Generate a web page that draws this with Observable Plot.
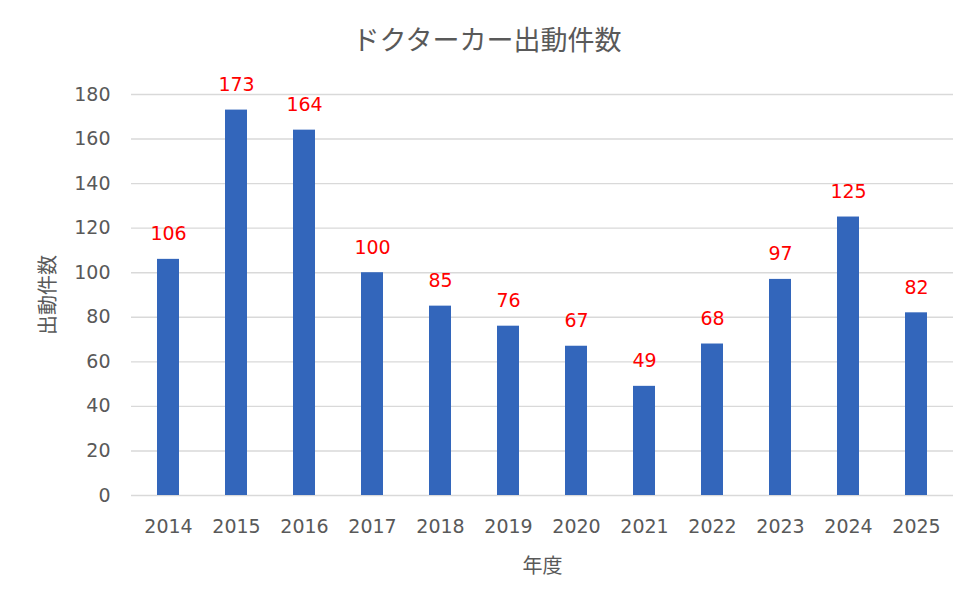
<!DOCTYPE html>
<html>
<head>
<meta charset="utf-8">
<script src="https://cdn.jsdelivr.net/npm/d3@7"></script>
<script src="https://cdn.jsdelivr.net/npm/@observablehq/plot@0.6"></script>
<style>
  html, body { margin: 0; padding: 0; background: #fff; }
  #wrap { width: 972px; }
  #title {
    height: 60px;
    line-height: 78px;
    text-align: center;
    font-family: "Noto Sans CJK JP", sans-serif;
    font-size: 27px;
    color: #595959;
    padding-left: 2px;
  }
  #chart svg text.num { letter-spacing: 0.5px; }
</style>
</head>
<body>
<div id="wrap">
  <div id="title">ドクターカー出動件数</div>
  <div id="chart"></div>
</div>
<script>
// 年度ごとのドクターカー出動件数
const years = ["2014", "2015", "2016", "2017", "2018", "2019", "2020", "2021", "2022", "2023", "2024", "2025"];
const counts = [106, 173, 164, 100, 85, 76, 67, 49, 68, 97, 125, 82];
const yTicks = [0, 20, 40, 60, 80, 100, 120, 140, 160, 180];

const data = years.map((year, i) => ({ year, count: counts[i] }));

const numFont = "'DejaVu Sans', Verdana, sans-serif";
const jpFont = "'Noto Sans CJK JP', sans-serif";

const chart = Plot.plot({
  width: 972,
  height: 547,
  marginLeft: 131,
  marginRight: 19,
  marginTop: 34,
  marginBottom: 112,
  style: { fontFamily: numFont, fontSize: "18px", color: "#595959", background: "#fff" },
  x: { domain: years, paddingInner: 0.68, paddingOuter: 0.34, label: null },
  y: { domain: [0, 180], label: null },
  marks: [
    Plot.ruleY(yTicks, { stroke: "#d9d9d9", strokeWidth: 1.4 }),
    Plot.barY(data, { x: "year", y: "count", fill: "#3366bb" }),
    Plot.text(data, {
      x: "year", y: "count", text: d => String(d.count),
      dy: -25, fill: "#ff0000", fontSize: 19, fontFamily: numFont, className: "num"
    }),
    Plot.axisX({
      tickSize: 0, tickPadding: 24, fontSize: 19, fill: "#595959",
      label: null, className: "num"
    }),
    Plot.axisY({
      ticks: yTicks, tickSize: 0, tickPadding: 21, fontSize: 19, fill: "#595959",
      label: null, className: "num"
    }),
    Plot.axisX({
      ticks: [], label: "年度", labelAnchor: "center", labelArrow: "none",
      labelOffset: 77, fontSize: 20, fontFamily: jpFont, fill: "#595959"
    }),
    Plot.axisY({
      ticks: [], label: "出動件数", labelAnchor: "center", labelArrow: "none",
      labelOffset: 91, fontSize: 20, fontFamily: jpFont, fill: "#595959"
    })
  ]
});

document.getElementById("chart").appendChild(chart);
</script>
</body>
</html>
